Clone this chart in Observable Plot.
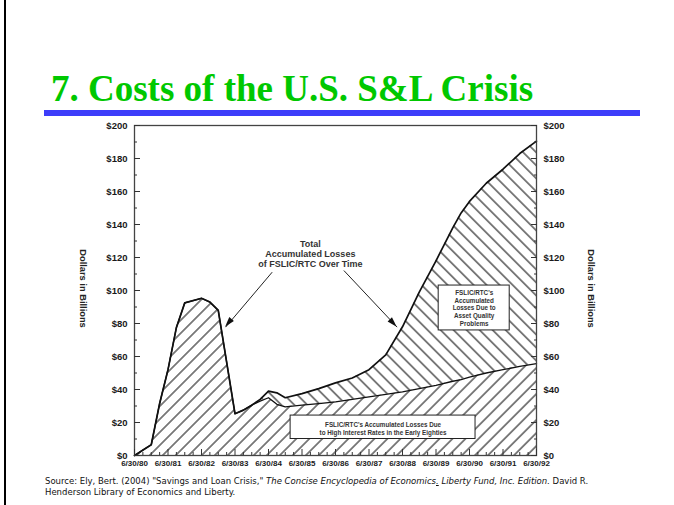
<!DOCTYPE html>
<html><head><meta charset="utf-8">
<script src="https://cdn.jsdelivr.net/npm/d3@7"></script>
<script src="https://cdn.jsdelivr.net/npm/@observablehq/plot@0.6"></script>
<style>
html,body{margin:0;padding:0;background:#fff;}
#page{position:relative;width:674px;height:505px;overflow:hidden;background:#fff;}
#border{position:absolute;left:4px;top:0;width:2px;height:505px;background:#000;}
#title{position:absolute;left:51px;top:70px;font:bold 37px/37px "Liberation Serif",serif;color:#00c800;white-space:nowrap;}
#bar{position:absolute;left:44px;top:110px;width:596px;height:6px;background:#3d3dfa;}
#chart{position:absolute;left:0;top:0;}
#caption{position:absolute;left:45px;top:476px;font:8.5px/11px "DejaVu Sans",sans-serif;color:#111;white-space:nowrap;}
</style></head><body>
<div id="page">
 <div id="chart"></div>
 <div id="border"></div>
 <div id="title">7. Costs of the U.S. S&amp;L Crisis</div>
 <div id="bar"></div>
 <div id="caption">Source: Ely, Bert. (2004) "Savings and Loan Crisis," <i>The Concise Encyclopedia of Economics<u>.</u> Liberty Fund, Inc. Edition.</i> David R.<br>Henderson Library of Economics and Liberty.</div>
</div>
<script>
// ---- data (billions of dollars) ----
const years = [1980.5, 1981.0, 1981.25, 1981.5, 1981.75, 1982.0, 1982.5, 1982.75, 1983.0, 1983.5, 1983.75, 1984.0, 1984.25, 1984.5, 1984.75, 1985.0, 1985.5, 1986.0, 1986.5, 1987.0, 1987.5, 1988.0, 1988.5, 1989.0, 1989.5, 1990.0, 1990.25, 1990.5, 1991.0, 1991.5, 1992.0, 1992.5];
const totalLosses = [0, 6.5, 31.5, 52, 77.5, 92.5, 95.3, 93, 88, 25.3, 27.5, 30.5, 34, 39, 38, 35, 37.5, 40.5, 44, 47, 52, 61, 78, 99, 118, 138, 147, 154, 165, 173.5, 183, 190.5];
const highRateLosses = [0, 6.5, 31.5, 52, 77.5, 92.5, 95.3, 93, 88, 25.3, 27.5, 30.5, 33, 35, 31, 29.5, 30.5, 31.5, 32.5, 34, 35.5, 37, 38.5, 40.5, 42.5, 45, 46, 47.5, 50, 52, 54, 55.7];

const yMajorTicks = [0, 20, 40, 60, 80, 100, 120, 140, 160, 180, 200];
const yMinorTicks = [10, 30, 50, 70, 90, 110, 130, 150, 170, 190];
const xTickYears = [1980.5, 1981.5, 1982.5, 1983.5, 1984.5, 1985.5, 1986.5, 1987.5, 1988.5, 1989.5, 1990.5, 1991.5, 1992.5];
const xTickLabels = ["6/30/80", "6/30/81", "6/30/82", "6/30/83", "6/30/84", "6/30/85", "6/30/86", "6/30/87", "6/30/88", "6/30/89", "6/30/90", "6/30/91", "6/30/92"];
const xMinorTicks = d3.range(1980.75, 1992.5, 0.25).filter(v => !xTickYears.includes(v));
const axisTitle = "Dollars in Billions";

// annotations
const noteText = ["Total\nAccumulated Losses\nof FSLIC/RTC Over Time"];
const noteX = [1985.75];
const noteY = [122.3];
const arrowStartX = [1984.61, 1986.75];
const arrowStartY = [111.1, 112.1];
const arrowEndX = [1983.22, 1988.34];
const arrowEndY = [77.8, 77.8];

const boxLabels = ["FSLIC/RTC's\nAccumulated\nLosses Due to\nAsset Quality\nProblems", "FSLIC/RTC's Accumulated Losses Due\nto High Interest Rates in the Early Eighties"];
const boxX1 = [1989.58, 1985.16];
const boxX2 = [1991.70, 1990.68];
const boxY1 = [75.8, 10];
const boxY2 = [103, 24.2];

// ---- tables ----
const rows = years.map((t, i) => ({t, total: totalLosses[i], low: highRateLosses[i]}));
const boxes = boxLabels.map((label, i) => ({label, x1: boxX1[i], x2: boxX2[i], y1: boxY1[i], y2: boxY2[i], cx: (boxX1[i] + boxX2[i]) / 2, cy: (boxY1[i] + boxY2[i]) / 2}));
const notes = noteText.map((label, i) => ({label, x: noteX[i], y: noteY[i]}));
const arrows = arrowStartX.map((x1, i) => ({x1, y1: arrowStartY[i], x2: arrowEndX[i], y2: arrowEndY[i]}));

function patternDefs() {
  const defs = d3.create("svg:defs");
  const make = (id, angle) => {
    const w = 9.2;
    const p = defs.append("pattern").attr("id", id)
      .attr("patternUnits", "userSpaceOnUse")
      .attr("width", w).attr("height", w)
      .attr("patternTransform", `rotate(${angle})`);
    p.append("line").attr("x1", w / 2).attr("y1", -1).attr("x2", w / 2).attr("y2", w + 1)
      .attr("stroke", "#111").attr("stroke-width", 1.05);
  };
  make("hatchF", 45);
  make("hatchB", -45);
  return defs.node();
}

function arrowHeads(index, scales) {
  const g = d3.create("svg:g");
  arrows.forEach(a => {
    const x1 = scales.x(a.x1), y1 = scales.y(a.y1), x2 = scales.x(a.x2), y2 = scales.y(a.y2);
    const ang = Math.atan2(y2 - y1, x2 - x1);
    const L = 10, W = 3;
    const bx = x2 - L * Math.cos(ang), by = y2 - L * Math.sin(ang);
    const px = -Math.sin(ang) * W, py = Math.cos(ang) * W;
    g.append("path").attr("d", `M${x2},${y2}L${bx + px},${by + py}L${bx - px},${by - py}Z`).attr("fill", "#111");
  });
  return g.node();
}

const font = '"Liberation Sans", Arial, sans-serif';
const chart = Plot.plot({
  width: 674,
  height: 505,
  marginLeft: 134,
  marginRight: 138,
  marginTop: 125,
  marginBottom: 50,
  x: {domain: [1980.5, 1992.5]},
  y: {domain: [0, 200]},
  style: {fontFamily: font, color: "#1a1a1a", background: "transparent"},
  marks: [
    patternDefs,
    Plot.areaY(rows, {x: "t", y: "low", fill: "url(#hatchF)"}),
    Plot.areaY(rows, {x: "t", y1: "low", y2: "total", fill: "url(#hatchB)"}),
    Plot.line(rows, {x: "t", y: "low", stroke: "#111", strokeWidth: 1.3}),
    Plot.line(rows, {x: "t", y: "total", stroke: "#111", strokeWidth: 1.7}),
    Plot.rect(boxes, {x1: "x1", x2: "x2", y1: "y1", y2: "y2", fill: "white", stroke: "#222", strokeWidth: 1}),
    Plot.text(boxes.slice(0, 1), {x: "cx", y: "cy", text: "label", fontSize: 6.3, fontWeight: "bold", lineHeight: 1.2, fill: "#333"}),
    Plot.text(boxes.slice(1), {x: "cx", y: "cy", text: "label", fontSize: 6.3, fontWeight: "bold", lineHeight: 1.3, fill: "#333", dy: 1}),
    Plot.text(notes, {x: "x", y: "y", text: "label", fontSize: 9, fontWeight: "bold", lineHeight: 1.08, fill: "#333"}),
    Plot.link(arrows, {x1: "x1", y1: "y1", x2: "x2", y2: "y2", stroke: "#222", strokeWidth: 1}),
    arrowHeads,
    Plot.frame({stroke: "#444", strokeWidth: 1.3}),
    // left axis
    Plot.axisY(yMajorTicks, {anchor: "left", tickSize: 0, tickPadding: 7, tickFormat: d => "$" + d, fontSize: 9.5, fontWeight: "bold", label: null}),
    Plot.axisY(yMajorTicks, {anchor: "left", tickSize: 6, dx: 6, fill: "none", label: null, stroke: "#333"}),
    Plot.axisY(yMinorTicks, {anchor: "left", tickSize: 3, dx: 3, fill: "none", label: null, stroke: "#333"}),
    // right axis
    Plot.axisY(yMajorTicks, {anchor: "right", tickSize: 0, tickPadding: 7, tickFormat: d => "$" + d, fontSize: 9.5, fontWeight: "bold", label: null}),
    Plot.axisY(yMajorTicks, {anchor: "right", tickSize: 6, dx: -6, fill: "none", label: null, stroke: "#333"}),
    Plot.axisY(yMinorTicks, {anchor: "right", tickSize: 3, dx: -3, fill: "none", label: null, stroke: "#333"}),
    // bottom axis
    Plot.axisX(xTickYears, {anchor: "bottom", tickSize: 0, tickPadding: 5, tickFormat: d => xTickLabels[xTickYears.indexOf(d)], fontSize: 8, fontWeight: "bold", label: null}),
    Plot.axisX(xTickYears, {anchor: "bottom", tickSize: 6, dy: -6, fill: "none", label: null, stroke: "#333"}),
    Plot.axisX(xMinorTicks, {anchor: "bottom", tickSize: 3, dy: -3, fill: "none", label: null, stroke: "#333"}),
    // axis titles
    Plot.text([axisTitle], {frameAnchor: "left", text: d => d, rotate: 90, textAnchor: "middle", dx: -52, dy: -2, fontSize: 9.3, fontWeight: "bold", fill: "#222"}),
    Plot.text([axisTitle], {frameAnchor: "right", text: d => d, rotate: 90, textAnchor: "middle", dx: 54, dy: -2, fontSize: 9.3, fontWeight: "bold", fill: "#222"})
  ]
});
document.getElementById("chart").appendChild(chart);
</script>
</body></html>
